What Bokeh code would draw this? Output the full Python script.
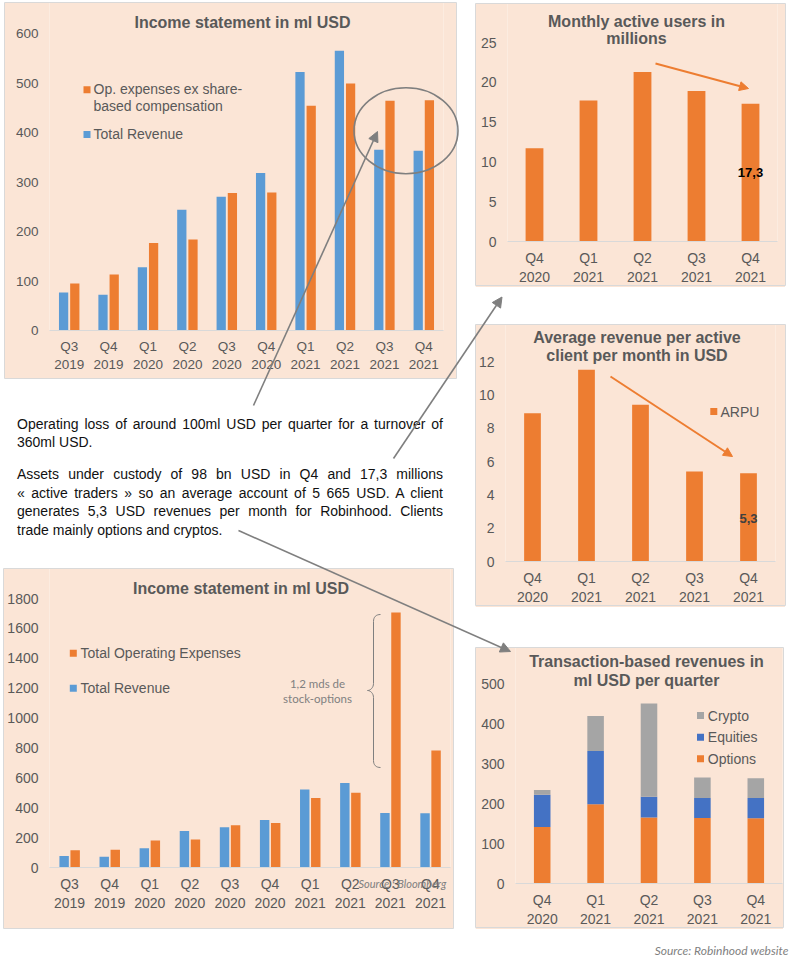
from bokeh.plotting import figure
from bokeh.models import (FactorRange, Range1d, Label, Arrow, NormalHead, Div,
                          FixedTicker, ColumnDataSource)
from bokeh.transform import dodge
from bokeh.core.properties import value
from bokeh.embed import file_html
from bokeh.resources import INLINE

# ---------------- data ----------------
quarters10 = ["Q3\n2019", "Q4\n2019", "Q1\n2020", "Q2\n2020", "Q3\n2020",
              "Q4\n2020", "Q1\n2021", "Q2\n2021", "Q3\n2021", "Q4\n2021"]
total_revenue = [77, 72, 128, 244, 270, 318, 522, 565, 365, 363]
opex_ex_sbc = [95, 113, 177, 184, 278, 279, 454, 499, 464, 465]
total_opex = [116, 118, 180, 187, 283, 298, 465, 501, 1707, 783]

quarters5 = ["Q4\n2020", "Q1\n2021", "Q2\n2021", "Q3\n2021", "Q4\n2021"]
mau = [11.7, 17.7, 21.3, 18.9, 17.3]
arpu = [8.9, 11.5, 9.4, 5.4, 5.3]
options_rev = [141, 198, 165, 164, 163]
equities_rev = [81, 133, 52, 50, 51]
crypto_rev = [12, 88, 233, 51, 49]

# ---------------- style ----------------
BG = "#FBE5D6"
BLUE = "#5B9BD5"
ORANGE = "#ED7D31"
GREY = "#A5A5A5"
DBLUE = "#4472C4"
TXT = "#595959"
FONT = "Liberation Sans"


def make_chart(PL, PT, W, H, FL, FR, FT, FB, factors, y0, y1, step, fsize="14px"):
    """Panel at (PL, PT) of size W x H; axis frame from FL..FR, tick top FT, baseline FB.
    The plotting frame reaches the panel top so that titles drawn inside stay visible."""
    y_end = y0 + (FB - PT) / (FB - FT) * (y1 - y0)
    p = figure(x_range=FactorRange(*factors), y_range=Range1d(y0, y_end),
               frame_width=FR - FL, frame_height=FB - PT,
               output_backend="svg", toolbar_location=None,
               min_border_left=FL - PL, min_border_right=PL + W - FR,
               min_border_top=0, min_border_bottom=PT + H - FB)
    p.background_fill_color = BG
    p.border_fill_color = BG
    p.outline_line_color = None
    p.grid.visible = False
    ticks = []
    t = y0
    while t <= y1 + 1e-9:
        ticks.append(t)
        t += step
    p.yaxis.ticker = FixedTicker(ticks=ticks)
    p.yaxis.axis_line_color = None
    p.yaxis.major_tick_line_color = None
    p.yaxis.minor_tick_line_color = None
    p.yaxis.major_tick_out = 0
    p.yaxis.major_tick_in = 0
    p.yaxis.major_label_standoff = 11
    p.xaxis.axis_line_color = "#D9D9D9"
    p.xaxis.axis_line_width = 1
    p.xaxis.major_tick_line_color = None
    p.xaxis.minor_tick_line_color = None
    p.xaxis.major_tick_out = 0
    p.xaxis.major_tick_in = 0
    p.xaxis.major_label_standoff = 8
    for ax in (p.xaxis, p.yaxis):
        ax.major_label_text_font = FONT
        ax.major_label_text_font_size = fsize
        ax.major_label_text_color = TXT
    p.styles = {"position": "absolute", "left": f"{PL}px", "top": f"{PT}px"}
    n = len(factors)

    def to_data(X, Y):
        return (X - FL) / (FR - FL) * n, y0 + (FB - Y) / (FB - FT) * (y1 - y0)
    return p, to_data


def label(p, td, X, Y, text, size="16px", color=TXT, bold=False, align="center",
          font=FONT, style=None):
    x, y = td(X, Y)
    p.add_layout(Label(x=x, y=y, text=text, text_align=align, text_baseline="middle",
                       text_font=font, text_font_size=size, text_color=color,
                       text_font_style=style or ("bold" if bold else "normal")))


def legend_square(p, td, X, Y, color, size=7):
    x, y = td(X, Y)
    p.scatter(x=[x], y=[y], marker="square", size=size, fill_color=color, line_color=None)


def orange_arrow(p, td, X0, Y0, X1, Y1):
    xa, ya = td(X0, Y0)
    xb, yb = td(X1, Y1)
    p.add_layout(Arrow(x_start=xa, y_start=ya, x_end=xb, y_end=yb, line_color=ORANGE,
                       line_width=2, end=NormalHead(size=9, fill_color=ORANGE,
                                                    line_color=ORANGE)))


# ---------- chart 1: income statement ex SBC ----------
c1, t1 = make_chart(4, 2, 452, 376, 49, 443, 33, 330, quarters10, 0, 600, 100, "13.5px")
s1 = ColumnDataSource(dict(q=quarters10, rev=total_revenue, opx=opex_ex_sbc))
c1.vbar(x=dodge("q", -0.142, range=c1.x_range), top="rev", width=0.235, source=s1,
        fill_color=BLUE, line_color=None)
c1.vbar(x=dodge("q", 0.142, range=c1.x_range), top="opx", width=0.235, source=s1,
        fill_color=ORANGE, line_color=None)
label(c1, t1, 242, 22, "Income statement in ml USD", bold=True)
legend_square(c1, t1, 86.5, 89.3, ORANGE)
label(c1, t1, 93, 88.3, "Op. expenses ex share-", size="14px", align="left")
label(c1, t1, 93, 105, "based compensation", size="14px", align="left")
legend_square(c1, t1, 86.5, 134, BLUE)
label(c1, t1, 93, 133.3, "Total Revenue", size="14px", align="left")

# ---------- chart 2: monthly active users ----------
c2, t2 = make_chart(475, 3, 310, 282, 507, 777, 42, 241, quarters5, 0, 25, 5)
c2.vbar(x=quarters5, top=mau, width=0.33, fill_color=ORANGE, line_color=None)
label(c2, t2, 636, 20.7, "Monthly active users in", bold=True)
label(c2, t2, 636, 38.3, "millions", bold=True)
label(c2, t2, 750, 172, "17,3", size="13px", color="#000000", bold=True)
orange_arrow(c2, t2, 655, 63, 748, 88)

# ---------- chart 3: ARPU ----------
c3, t3 = make_chart(475, 324, 310, 281, 505, 775, 361, 561, quarters5, 0, 12, 2)
c3.vbar(x=quarters5, top=arpu, width=0.31, fill_color=ORANGE, line_color=None)
label(c3, t3, 636.5, 336.7, "Average revenue per active", bold=True)
label(c3, t3, 636.5, 355, "client per month in USD", bold=True)
label(c3, t3, 748, 518, "5,3", size="13px", color="#404040", bold=True)
legend_square(c3, t3, 713.3, 411, ORANGE)
label(c3, t3, 720, 411, "ARPU", size="14px", align="left")
orange_arrow(c3, t3, 610, 376, 732, 456)

# ---------- chart 4: income statement total opex ----------
c4, t4 = make_chart(3, 568, 450, 360, 49, 450, 598, 867, quarters10, 0, 1800, 200)
s4 = ColumnDataSource(dict(q=quarters10, rev=total_revenue, opx=total_opex))
c4.vbar(x=dodge("q", -0.135, range=c4.x_range), top="rev", width=0.235, source=s4,
        fill_color=BLUE, line_color=None)
c4.vbar(x=dodge("q", 0.14, range=c4.x_range), top="opx", width=0.235, source=s4,
        fill_color=ORANGE, line_color=None)
label(c4, t4, 240.5, 588.3, "Income statement in ml USD", bold=True)
legend_square(c4, t4, 72.8, 652.7, ORANGE)
label(c4, t4, 80, 652.3, "Total Operating Expenses", size="14px", align="left")
legend_square(c4, t4, 72.8, 687.7, BLUE)
label(c4, t4, 80, 687.7, "Total Revenue", size="14px", align="left")
label(c4, t4, 317, 683, "1,2 mds de", size="11.5px", color="#808080", font="Lato")
label(c4, t4, 317, 698, "stock-options", size="11.5px", color="#808080", font="Lato")

# ---------- chart 5: transaction-based revenues ----------
c5, t5 = make_chart(475, 647, 308, 280, 515, 782, 683, 883, quarters5, 0, 500, 100)
s5 = ColumnDataSource(dict(q=quarters5, Options=options_rev, Equities=equities_rev,
                           Crypto=crypto_rev))
c5.vbar_stack(["Options", "Equities", "Crypto"], x="q", width=0.31,
              color=[ORANGE, DBLUE, GREY], line_color=None, source=s5)
label(c5, t5, 646, 660.7, "Transaction-based revenues in", bold=True)
label(c5, t5, 646, 680, "ml USD per quarter", bold=True)
for name, col, yy in (("Crypto", GREY, 715), ("Equities", DBLUE, 736.7),
                      ("Options", ORANGE, 758.3)):
    legend_square(c5, t5, 700, yy, col)
    label(c5, t5, 707.3, yy, name, size="14px", align="left")

# ---------- text paragraphs ----------
J = "text-align:justify;text-align-last:justify;"
html = (
    "<div style=\"font-family:'Liberation Sans',Arial,sans-serif;font-size:14px;"
    "line-height:18.5px;color:#111;width:426px\">"
    f"<div style='{J}'>Operating loss of around 100ml USD per quarter for a turnover of</div>"
    "<div>360ml USD.</div>"
    "<div style='height:13.5px'></div>"
    f"<div style='{J}'>Assets under custody of 98 bn USD in Q4 and 17,3 millions</div>"
    f"<div style='{J}'>\u00ab active traders \u00bb so an average account of 5 665 USD. A client</div>"
    f"<div style='{J}'>generates 5,3 USD revenues per month for Robinhood. Clients</div>"
    "<div>trade mainly options and cryptos.</div>"
    "</div>"
)
para = Div(text=html, width=426, height=140, margin=0,
           styles={"position": "absolute", "left": "17px", "top": "414.75px"})

# ---------- overlay: arrows, circle, brace, frames, sources ----------
OW, OH = 790, 960
ov = figure(x_range=Range1d(0, OW), y_range=Range1d(OH, 0),
            frame_width=OW, frame_height=OH, min_border=0,
            min_border_left=0, min_border_right=0, min_border_top=0, min_border_bottom=0,
            x_axis_type=None, y_axis_type=None, title=None,
            output_backend="svg", toolbar_location=None)
ov.outline_line_color = None
ov.background_fill_alpha = 0
ov.border_fill_alpha = 0
ov.styles = {"position": "absolute", "left": "0px", "top": "0px"}

panels_l = [4, 475, 475, 3, 475]
panels_r = [456, 785, 785, 453, 783]
panels_t = [2, 3, 324, 568, 647]
panels_b = [378, 285, 605, 928, 927]
ov.quad(left=panels_l, right=panels_r, top=panels_t, bottom=panels_b,
        fill_alpha=0, line_color="#D9D9D9", line_width=1)

AG = "#7F7F7F"
ov.ellipse(x=[405.5], y=[130.3], width=[104], height=[86], fill_alpha=0,
           line_color=AG, line_width=1.6)

for (xs, ys, xe, ye) in ((253, 405, 377, 131), (393, 458, 501.5, 296.5),
                         (238, 530, 510, 651)):
    ov.add_layout(Arrow(x_start=xs, y_start=ys, x_end=xe, y_end=ye, line_color=AG,
                        line_width=1.6, end=NormalHead(size=10, fill_color=AG,
                                                       line_color=AG)))

# curly brace
ov.bezier(x0=[380, 373, 367, 373], y0=[614, 683, 690, 760],
          x1=[373, 367, 373, 380], y1=[621, 690, 697, 767],
          cx0=[375.5, 373, 370, 373], cy0=[614, 687, 690, 764.5],
          cx1=[373, 370, 373, 375.5], cy1=[616.5, 690, 693, 767],
          line_color=AG, line_width=1)
ov.segment(x0=[373, 373], y0=[621, 697], x1=[373, 373], y1=[683, 760],
           line_color=AG, line_width=1)

ov.text(x=[358], y=[883], text=["Source : Bloomberg"], text_align="left",
        text_baseline="middle", text_font=value("Lato"), text_font_style="italic",
        text_font_size="11px", text_color="#808080")
ov.text(x=[788], y=[950], text=["Source: Robinhood website"], text_align="right",
        text_baseline="middle", text_font=value("Lato"), text_font_style="italic",
        text_font_size="12px", text_color="#7F7F7F")

# independent roots (no shared frame alignment), absolutely placed on the page
p = [c1, c2, c3, c4, c5, para, ov]

open("out.html", "w").write(file_html(p, INLINE))
